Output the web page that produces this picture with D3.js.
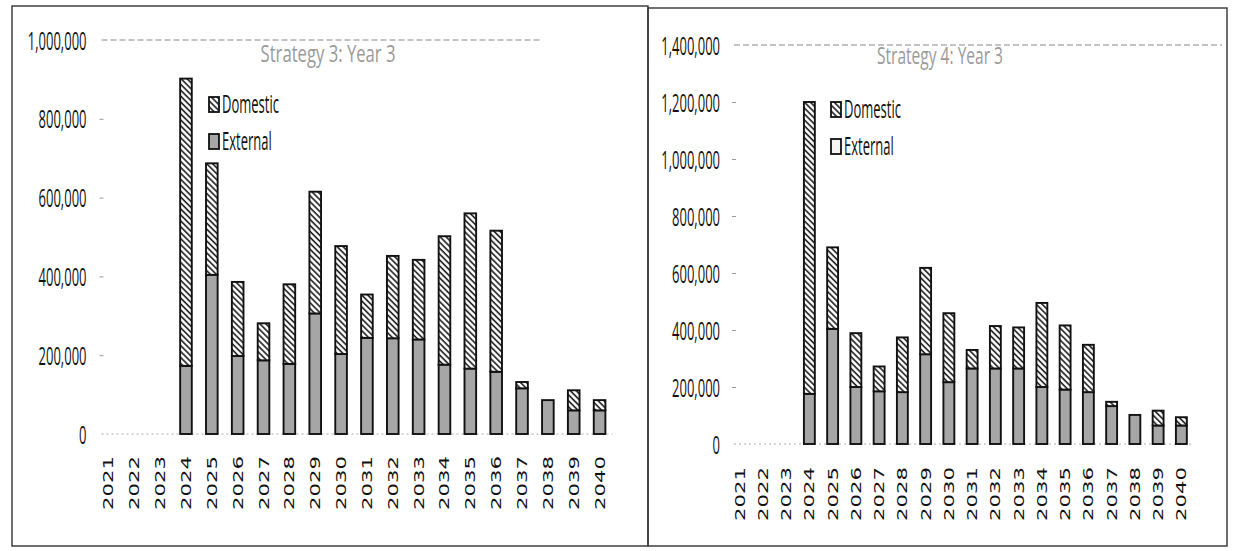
<!DOCTYPE html>
<html>
<head>
<meta charset="utf-8">
<script src="https://cdn.jsdelivr.net/npm/d3@7"></script>
<style>
  body { margin: 0; background: #fff; }
  svg { display: block; }
</style>
</head>
<body>
<div id="chart"></div>
<script>
// years on the x axis
const years = ["2021","2022","2023","2024","2025","2026","2027","2028","2029","2030",
               "2031","2032","2033","2034","2035","2036","2037","2038","2039","2040"];

// Strategy 3: Year 3
const external3 = [0,0,0,173000,404000,198000,187000,178000,306000,203000,
                   244000,243000,240000,176000,166000,158000,116000,86000,60000,60000];
const domestic3 = [0,0,0,729000,283000,188000,94000,202000,309000,274000,
                   110000,209000,202000,326000,394000,358000,16000,0,51000,26000];
const ticks3 = [0,200000,400000,600000,800000,1000000];

// Strategy 4: Year 3
const external4 = [0,0,0,176000,404000,200000,185000,182000,315000,217000,
                   265000,265000,265000,200000,191000,182000,133000,102000,65000,65000];
const domestic4 = [0,0,0,1024000,286000,189000,87000,192000,303000,242000,
                   65000,149000,144000,295000,225000,166000,15000,0,52000,29000];
const ticks4 = [0,200000,400000,600000,800000,1000000,1200000,1400000];

const seriesKeys = ["External","Domestic"];

const W = 1235, H = 551;
const svg = d3.select("#chart").append("svg")
    .attr("width", W)
    .attr("height", H);

// hatch for domestic
const defs = svg.append("defs");
defs.append("pattern")
    .attr("id", "hatch")
    .attr("patternUnits", "userSpaceOnUse")
    .attr("width", 4.2)
    .attr("height", 4.2)
    .attr("patternTransform", "rotate(-45)")
    .call(p => {
        p.append("rect").attr("width", 4.2).attr("height", 4.2).attr("fill", "#fff");
        p.append("line").attr("x1", 1).attr("x2", 1).attr("y1", 0).attr("y2", 4.2)
            .attr("stroke", "#1a1a1a").attr("stroke-width", 1.6);
    });

// panel frames
svg.append("rect").attr("x", 12).attr("y", 6).attr("width", 636).attr("height", 540)
    .attr("fill", "none").attr("stroke", "#333").attr("stroke-width", 1.4);
svg.append("rect").attr("x", 648).attr("y", 8).attr("width", 579).attr("height", 538)
    .attr("fill", "none").attr("stroke", "#333").attr("stroke-width", 1.4);

const labelFont = "'Open Sans', 'Noto Sans', sans-serif";

// squeezed narrow text, like the scanned labels
function narrowText(parent, x, y, str, anchor, sx, fill, size) {
    return parent.append("g")
        .attr("transform", "translate(" + x + "," + y + ") scale(" + sx + ",1)")
        .append("text")
        .attr("text-anchor", anchor)
        .style("font-family", labelFont)
        .style("font-size", (size || 26) + "px")
        .style("fill", fill || "#111")
        .text(str);
}

function drawPanel(cfg) {
    let g = svg.append("g");

    let x = d3.scaleBand()
        .domain(years)
        .range(cfg.xRange)
        .paddingInner(cfg.pad)
        .paddingOuter(cfg.pad / 2);

    let y = d3.scaleLinear()
        .domain([0, d3.max(cfg.ticks)])
        .range(cfg.yRange);

    let rows = years.map((yr, i) => ({ year: yr, External: cfg.external[i], Domestic: cfg.domestic[i] }));
    let stacked = d3.stack().keys(seriesKeys)(rows);

    // top dashed gridline + dotted baseline
    g.append("line")
        .attr("x1", cfg.xRange[0] + 6).attr("x2", cfg.gridEnd)
        .attr("y1", y(d3.max(cfg.ticks))).attr("y2", y(d3.max(cfg.ticks)))
        .style("stroke", "#888").style("stroke-width", 1)
        .style("stroke-dasharray", "6,3");
    g.append("line")
        .attr("x1", cfg.xRange[0] + 6).attr("x2", cfg.xRange[1])
        .attr("y1", y(0)).attr("y2", y(0))
        .style("stroke", "#aaa").style("stroke-width", 1)
        .style("stroke-dasharray", "2,3");

    // y axis, labels only
    let yAxis = g.append("g")
        .attr("transform", "translate(" + cfg.xRange[0] + ",0)")
        .call(d3.axisLeft(y).tickValues(cfg.ticks).tickFormat(d3.format(",")).tickSize(0));
    yAxis.select(".domain").remove();
    yAxis.selectAll("text").remove();
    yAxis.selectAll(".tick").each(function (d) {
        let t = d3.select(this);
        narrowText(t, -cfg.labelPad, 9, d3.format(",")(d), "end", 0.5);
        if (d > 0 && d < d3.max(cfg.ticks)) {
            t.append("line").attr("x1", 4).attr("x2", 8)
                .style("stroke", "#999").style("stroke-width", 1);
        }
    });

    // bars
    let layer = g.selectAll(".layer")
        .data(stacked)
        .enter().append("g")
        .attr("class", "layer");

    layer.selectAll("rect")
        .data(s => s.map(d => Object.assign(d, { key: s.key })).filter(d => d[1] - d[0] > 0))
        .enter().append("rect")
        .attr("x", d => x(d.data.year))
        .attr("width", x.bandwidth())
        .attr("y", d => y(d[1]))
        .attr("height", d => y(d[0]) - y(d[1]))
        .attr("fill", d => d.key === "External" ? "#a6a6a6" : "url(#hatch)")
        .attr("stroke", "#111")
        .attr("stroke-width", 1.9);

    // x labels, rotated
    g.selectAll(".xlab")
        .data(years)
        .enter().append("text")
        .attr("class", "xlab")
        .attr("transform", d => "translate(" + (x(d) + x.bandwidth() / 2 + 5) + "," + (y(0) + cfg.xLabGap) + ") rotate(-90)")
        .attr("text-anchor", "end")
        .attr("textLength", 54)
        .attr("lengthAdjust", "spacingAndGlyphs")
        .style("font-family", "'DejaVu Sans', Verdana, sans-serif")
        .style("font-size", "14px")
        .style("fill", "#111")
        .text(d => d);

    // title
    g.append("text")
        .attr("x", cfg.titleX).attr("y", cfg.titleY)
        .attr("text-anchor", "middle")
        .attr("textLength", cfg.titleLen)
        .attr("lengthAdjust", "spacingAndGlyphs")
        .style("font-family", labelFont)
        .style("font-size", "23px")
        .style("fill", "#9a9a9a")
        .text(cfg.title);

    // legend
    let lg = [
        { name: "Domestic", fill: "url(#hatch)", y: cfg.legY[0] },
        { name: "External", fill: cfg.legExtFill, y: cfg.legY[1] }
    ];
    lg.forEach(l => {
        g.append("rect")
            .attr("x", cfg.legX).attr("y", l.y - 16)
            .attr("width", 10).attr("height", 15)
            .attr("fill", l.fill)
            .attr("stroke", "#111").attr("stroke-width", 1.8);
        narrowText(g, cfg.legX + 13, l.y, l.name, "start", 0.5);
    });
}

drawPanel({
    external: external3, domestic: domestic3, ticks: ticks3,
    xRange: [95.5, 612.5], yRange: [434, 40], pad: 0.55,
    labelPad: 9, gridEnd: 540, xLabGap: 22,
    title: "Strategy 3: Year 3", titleX: 328, titleY: 62, titleLen: 135,
    legX: 209, legY: [113, 150], legExtFill: "#a6a6a6"
});

drawPanel({
    external: external4, domestic: domestic4, ticks: ticks4,
    xRange: [728, 1193], yRange: [444, 45], pad: 0.53,
    labelPad: 8, gridEnd: 1222, xLabGap: 23,
    title: "Strategy 4: Year 3", titleX: 940, titleY: 64, titleLen: 126,
    legX: 831, legY: [118, 155], legExtFill: "#f4f4f4"
});
</script>
</body>
</html>
